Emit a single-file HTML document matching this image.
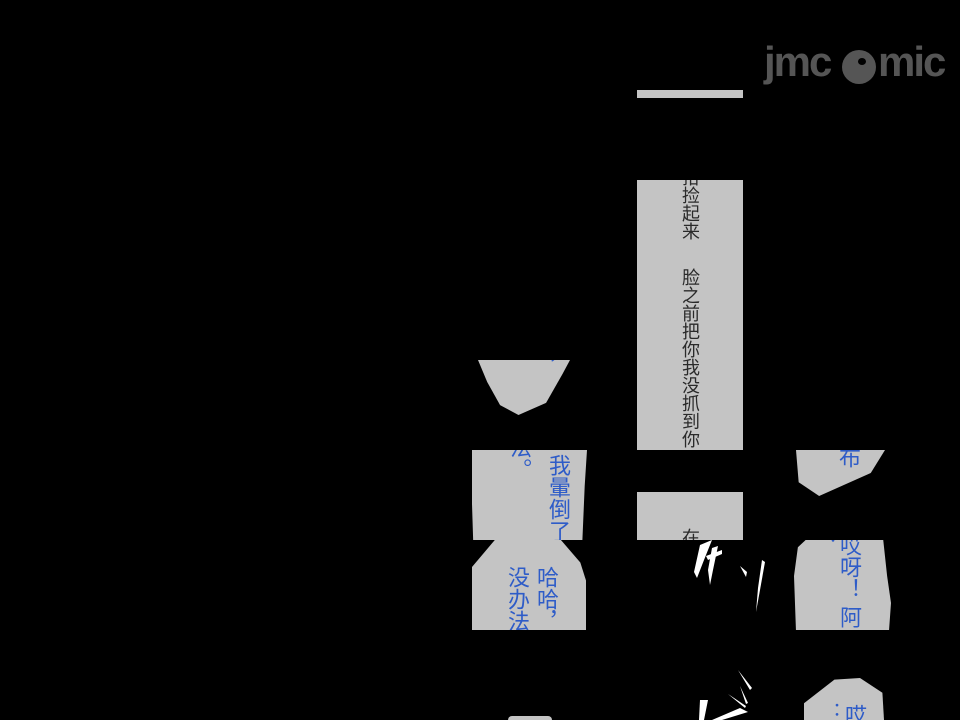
<!DOCTYPE html>
<html><head><meta charset="utf-8"><style>
html,body{margin:0;padding:0;background:#000;}
body{width:960px;height:720px;position:relative;overflow:hidden;font-family:"Liberation Sans","Noto Sans CJK SC",sans-serif;}
.b{position:absolute;background:#c4c4c4;overflow:hidden;}
.v{position:absolute;writing-mode:vertical-rl;font-size:22px;line-height:24px;white-space:nowrap;}
.g{color:#2a2a2a;font-size:18px;line-height:22px;}
.bl{color:#2e5cc8;}
</style></head><body>
<!-- logo -->
<div style="position:absolute;left:764px;top:40px;font:bold 42px 'Liberation Sans',sans-serif;color:#555;letter-spacing:-2px;line-height:44px;">jmc</div>
<div style="position:absolute;left:878px;top:40px;font:bold 42px 'Liberation Sans',sans-serif;color:#555;letter-spacing:-2px;line-height:44px;">mic</div>
<div style="position:absolute;left:842px;top:50px;width:34px;height:34px;border-radius:50%;background:#555;"></div>
<div style="position:absolute;left:858px;top:58px;width:8px;height:7px;border-radius:50%;background:#000;"></div>

<!-- right column boxes -->
<div class="b" style="left:637px;top:90px;width:106px;height:8px;"></div>
<div class="b" style="left:637px;top:180px;width:106px;height:270px;">
  <div class="v g" style="left:42px;top:-12px;">拾捡起来</div>
  <div class="v g" style="left:42px;top:88px;">脸之前把你我没抓到你</div>
</div>
<div class="b" style="left:637px;top:492px;width:106px;height:48px;">
  <div class="v g" style="left:42px;top:36px;">在</div>
</div>

<!-- left bubbles -->
<div class="b" style="left:478px;top:360px;width:92px;height:55px;clip-path:polygon(0 0,100% 0,92% 25%,74% 78%,44% 100%,24% 82%,10% 40%);">
  <div class="v bl" style="left:56px;top:-6px;">，</div>
</div>
<div class="b" style="left:472px;top:450px;width:115px;height:90px;clip-path:polygon(0 0,100% 0,98% 40%,96% 100%,1% 100%,0 60%);">
  <div class="v bl" style="left:74px;top:4px;">我暈倒了</div>
  <div class="v bl" style="left:35px;top:-14px;">法。</div>
</div>
<div class="b" style="left:472px;top:540px;width:114px;height:90px;clip-path:polygon(0 30%,20% 0,78% 0,95% 25%,100% 45%,100% 100%,0 100%);">
  <div class="v bl" style="left:62px;top:26px;">哈哈，</div>
  <div class="v bl" style="left:33px;top:26px;">没办法</div>
</div>
<div class="b" style="left:508px;top:716px;width:44px;height:4px;border-radius:20px 20px 0 0;"></div>

<!-- right bubbles -->
<div class="b" style="left:796px;top:450px;width:89px;height:46px;clip-path:polygon(0 0,100% 0,84% 50%,26% 100%,3% 70%);">
  <div class="v bl" style="left:40px;top:-4px;">布</div>
</div>
<div class="b" style="left:794px;top:540px;width:97px;height:90px;clip-path:polygon(4% 8%,12% 0,92% 0,96% 40%,100% 70%,98% 100%,2% 100%,0 40%);">
  <div class="v bl" style="left:43px;top:-6px;">哎呀！ 阿</div>
  <div class="v bl" style="left:22px;top:-12px;font-size:18px;">：</div>
</div>
<div class="b" style="left:804px;top:678px;width:80px;height:42px;clip-path:polygon(0 60%,38% 4%,70% 0,98% 35%,100% 100%,0 100%);">
  <div class="v bl" style="left:38px;top:26px;">哎</div>
  <div class="v bl" style="left:16px;top:24px;font-size:18px;">：</div>
</div>

<!-- white strokes -->
<svg width="960" height="720" style="position:absolute;left:0;top:0;" fill="#fff">
  <path d="M700 545 L712 540 L704 560 L697 578 L694 572 Z"/>
  <path d="M712 548 L718 546 L713 570 L710 585 L708 570 Z"/>
  <path d="M706 556 L722 550 L722 554 L708 560 Z"/>
  <path d="M740 566 L747 572 L746 577 Z"/>
  <path d="M762 560 L765 562 L760 590 L756 612 L758 588 Z"/>
  <path d="M738 670 L752 688 L750 690 Z"/>
  <path d="M740 686 L748 703 L746 704 Z"/>
  <path d="M728 694 L746 706 L745 708 Z"/>
  <path d="M700 700 L708 700 L704 720 L699 720 Z"/>
  <path d="M712 720 L740 708 L748 712 L722 720 Z"/>
</svg>
</body></html>
